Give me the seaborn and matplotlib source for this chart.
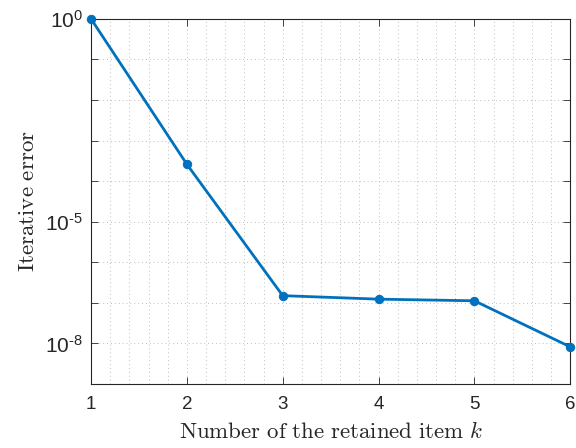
import numpy as np
import pandas as pd
import matplotlib
matplotlib.use('Agg')
import matplotlib.pyplot as plt
import matplotlib.ticker as mticker
import seaborn as sns

# data
k_vals = [1, 2, 3, 4, 5, 6]
err_vals = [1.0, 2.6e-4, 1.5e-7, 1.23e-7, 1.12e-7, 8.2e-9]
labelled_exps = [0, -5, -8]

sns.set_theme(style='ticks')
plt.rcParams['font.family'] = ['Liberation Sans', 'DejaVu Sans']
plt.rcParams['mathtext.fontset'] = 'custom'
plt.rcParams['mathtext.rm'] = 'Liberation Sans'
plt.rcParams['mathtext.it'] = 'Liberation Sans:italic'

df = pd.DataFrame({'k': k_vals, 'err': err_vals})

fig = plt.figure(figsize=(5.76, 4.48), dpi=100)
ax = fig.add_axes([0.158, 0.143, 0.832, 0.815])

blue = '#0072BD'
sns.lineplot(data=df, x='k', y='err', ax=ax, color=blue, linewidth=2,
             marker='o', markersize=6, markeredgecolor=blue, clip_on=False, zorder=5)
ax.set_yscale('log')
ax.set_xlim(1, 6)
ax.set_ylim(1e-9, 1e0)

# ticks
ax.xaxis.set_major_locator(mticker.FixedLocator(k_vals))
ax.xaxis.set_minor_locator(mticker.MultipleLocator(0.2))
ax.yaxis.set_major_locator(mticker.FixedLocator([10.0 ** e for e in range(-9, 1)]))
ax.yaxis.set_minor_locator(mticker.NullLocator())

def ylab(v, pos):
    e = int(round(np.log10(v)))
    # matlab style short hyphen in the exponent
    return r'$10^{\text{%d}}$' % e if e in labelled_exps else ''

ax.yaxis.set_major_formatter(mticker.FuncFormatter(ylab))
ax.tick_params(which='both', direction='in', top=True, right=True,
               color='#262626', labelcolor='#262626')
ax.tick_params(which='major', length=5, width=0.6)
ax.tick_params(which='minor', length=0)
ax.tick_params(axis='x', labelsize=13.5, pad=9)
ax.tick_params(axis='y', labelsize=15, pad=6)

grid_style = dict(linestyle=(0, (1, 3)), color='#bdbdbd', linewidth=0.7)
ax.grid(True, which='major', **grid_style)
ax.grid(True, which='minor', axis='x', **grid_style)
ax.set_axisbelow(True)

for s in ax.spines.values():
    s.set_color('#262626')
    s.set_linewidth(0.8)

ax.set_xlabel(r'$\mathrm{Number\ of\ the\ retained\ item}\ k$', fontsize=16.5,
              math_fontfamily='cm', labelpad=5, color='#262626')
ax.set_ylabel(r'$\mathrm{Iterative\ error}$', fontsize=16.5,
              math_fontfamily='cm', labelpad=4, color='#262626')

plt.savefig('out.png', dpi=100, facecolor='white')
plt.close()
